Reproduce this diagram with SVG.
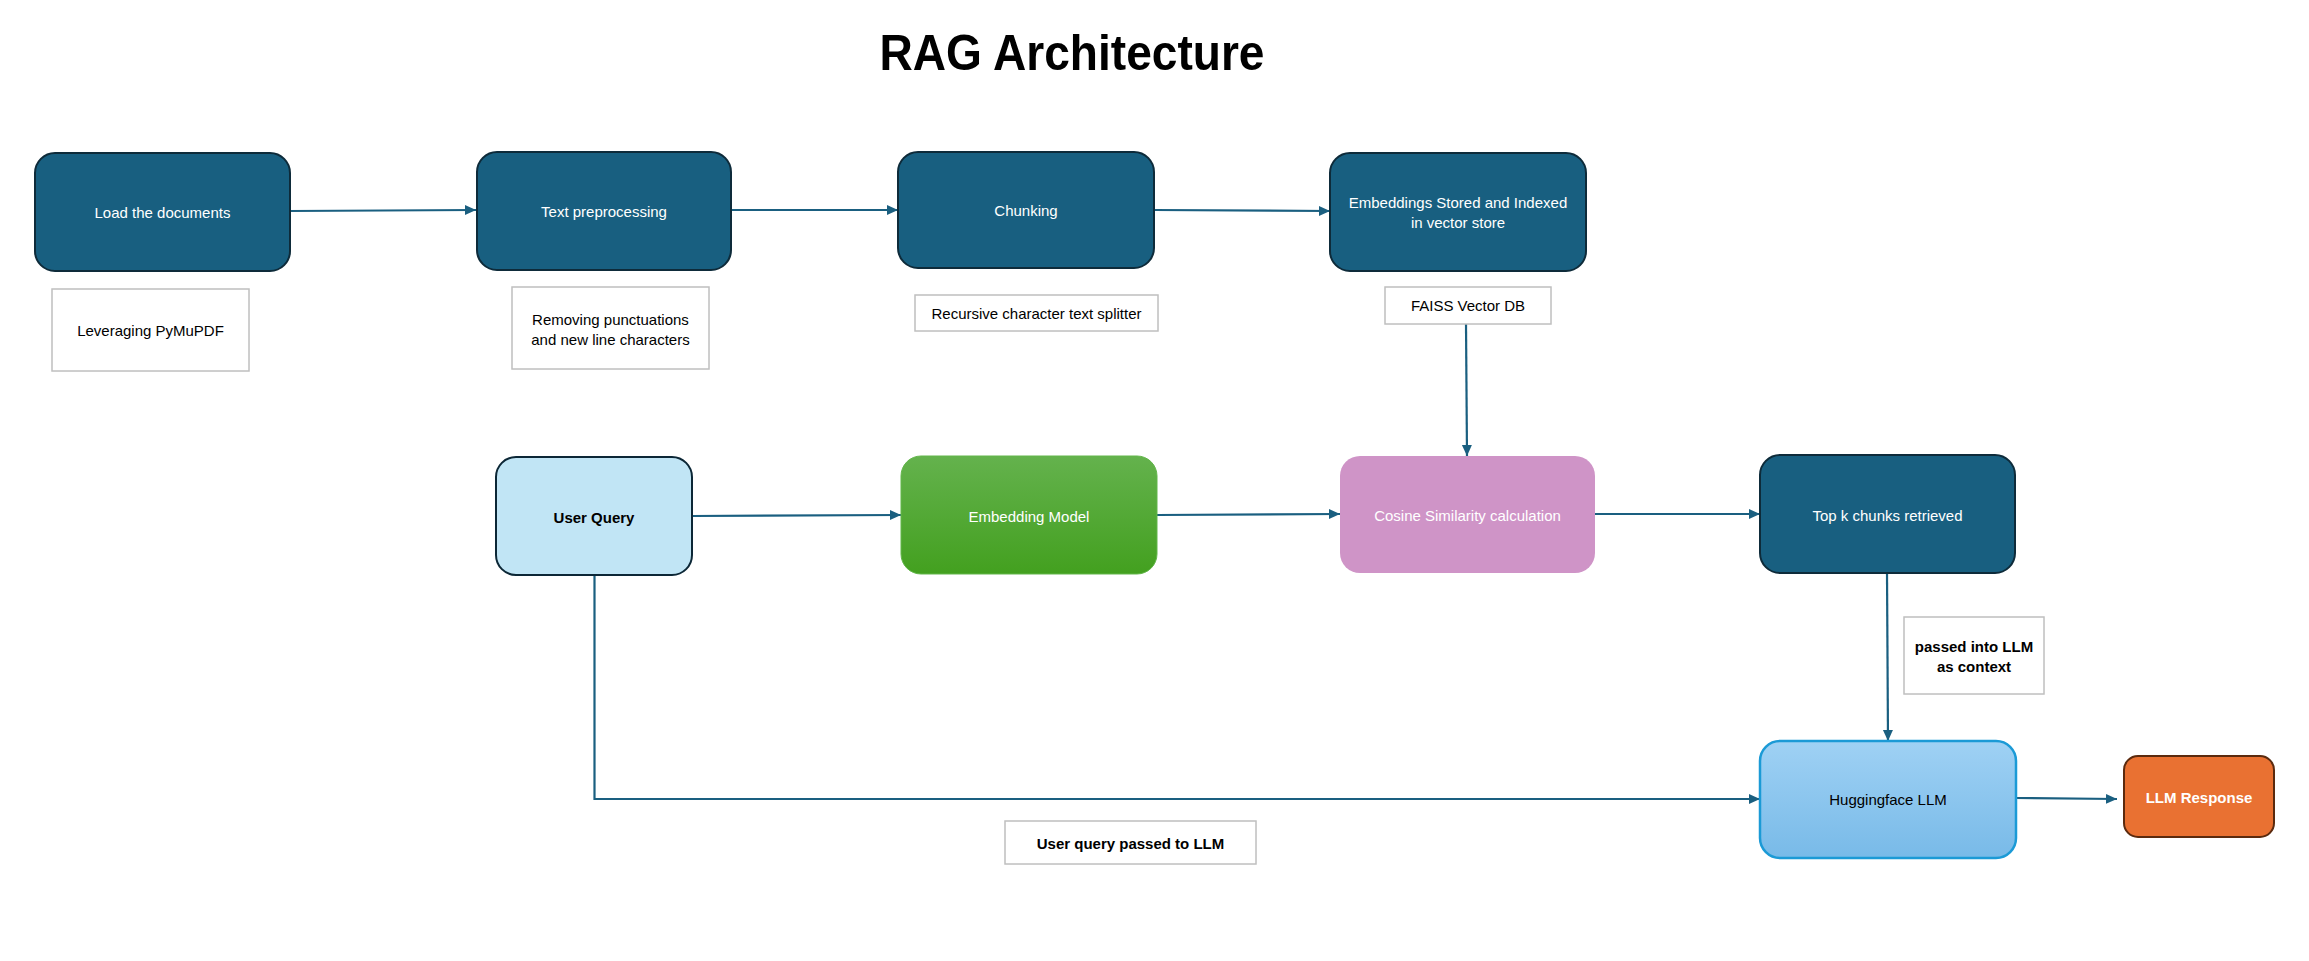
<svg xmlns="http://www.w3.org/2000/svg" width="2309" height="961" viewBox="0 0 2309 961">
<style>
text{font-family:"Liberation Sans",Arial,sans-serif;font-size:15px;text-anchor:middle;dominant-baseline:central}
.dark{fill:#185F80;stroke:#0E2B3A;stroke-width:2}
.lbl{fill:#FFFFFF;stroke:#BFBFBF;stroke-width:1.5}
.w{fill:#FFFFFF}
.k{fill:#000000}
.b{font-weight:bold}
.con{fill:none;stroke:#1A5F80;stroke-width:2.2}
</style>
<defs>
<marker id="ah" markerUnits="userSpaceOnUse" markerWidth="12" markerHeight="12" viewBox="0 0 12 12" refX="11" refY="6" orient="auto">
<path d="M0,1 L11,6 L0,11 Z" fill="#1A5F80"/>
</marker>
<linearGradient id="gGreen" x1="0" y1="0" x2="0" y2="1">
<stop offset="0" stop-color="#64B24D"/>
<stop offset="1" stop-color="#43A01F"/>
</linearGradient>
<linearGradient id="gBlue" x1="0" y1="0" x2="0" y2="1">
<stop offset="0" stop-color="#9FD1F4"/>
<stop offset="1" stop-color="#78BAE8"/>
</linearGradient>
</defs>
<rect width="2309" height="961" fill="#FFFFFF"/>
<text id="title" x="1072" y="53" style="font-size:50px;font-weight:bold" textLength="385" lengthAdjust="spacingAndGlyphs">RAG Architecture</text>

<g id="connectors">
<path class="con" d="M290,211 L476,210" marker-end="url(#ah)"/>
<path class="con" d="M731,210 L898,210" marker-end="url(#ah)"/>
<path class="con" d="M1154,210 L1330,211" marker-end="url(#ah)"/>
<path class="con" d="M1466,324 L1467,456" marker-end="url(#ah)"/>
<path class="con" d="M692,516 L901,515" marker-end="url(#ah)"/>
<path class="con" d="M1157,515 L1340,514" marker-end="url(#ah)"/>
<path class="con" d="M1595,514 L1760,514" marker-end="url(#ah)"/>
<path class="con" d="M1887,573 L1888,741" marker-end="url(#ah)"/>
<path class="con" d="M594.5,575 L594.5,799 L1760,799" marker-end="url(#ah)"/>
<path class="con" d="M2016,798 L2117,799" marker-end="url(#ah)"/>
</g>

<g id="load">
<rect class="dark" x="35" y="153" width="255" height="118" rx="20"/>
<text class="w" x="162.5" y="212">Load the documents</text>
</g>
<g id="load-note">
<rect class="lbl" x="52" y="289" width="197" height="82"/>
<text class="k" x="150.5" y="330">Leveraging PyMuPDF</text>
</g>

<g id="preprocess">
<rect class="dark" x="477" y="152" width="254" height="118" rx="20"/>
<text class="w" x="604" y="211">Text preprocessing</text>
</g>
<g id="preprocess-note">
<rect class="lbl" x="512" y="287" width="197" height="82"/>
<text class="k" x="610.5" y="319">Removing punctuations</text>
<text class="k" x="610.5" y="339">and new line characters</text>
</g>

<g id="chunking">
<rect class="dark" x="898" y="152" width="256" height="116" rx="20"/>
<text class="w" x="1026" y="210">Chunking</text>
</g>
<g id="chunking-note">
<rect class="lbl" x="915" y="295" width="243" height="36"/>
<text class="k" x="1036.5" y="313">Recursive character text splitter</text>
</g>

<g id="embeddings">
<rect class="dark" x="1330" y="153" width="256" height="118" rx="20"/>
<text class="w" x="1458" y="202.5">Embeddings Stored and Indexed</text>
<text class="w" x="1458" y="222.5">in vector store</text>
</g>
<g id="faiss">
<rect class="lbl" x="1385" y="287" width="166" height="37"/>
<text class="k" x="1468" y="305.5">FAISS Vector DB</text>
</g>

<g id="user-query">
<rect x="496" y="457" width="196" height="118" rx="20" fill="#C1E5F5" stroke="#0C2736" stroke-width="2"/>
<text class="k b" x="594" y="517">User Query</text>
</g>

<g id="embedding-model">
<rect x="901" y="456" width="256" height="118" rx="20" fill="url(#gGreen)" stroke="#62B64A" stroke-width="1"/>
<text class="w" x="1029" y="516">Embedding Model</text>
</g>

<g id="cosine">
<rect x="1340" y="456" width="255" height="117" rx="20" fill="#CF94C7"/>
<text class="w" x="1467.5" y="515">Cosine Similarity calculation</text>
</g>

<g id="topk">
<rect class="dark" x="1760" y="455" width="255" height="118" rx="20"/>
<text class="w" x="1887.5" y="515">Top k chunks retrieved</text>
</g>

<g id="context-note">
<rect class="lbl" x="1904" y="617" width="140" height="77"/>
<text class="k b" x="1974" y="646">passed into LLM</text>
<text class="k b" x="1974" y="666">as context</text>
</g>

<g id="llm">
<rect x="1760" y="741" width="256" height="117" rx="20" fill="url(#gBlue)" stroke="#1B9AD6" stroke-width="2.5"/>
<text class="k" x="1888" y="799">Huggingface LLM</text>
</g>

<g id="response">
<rect x="2124" y="756" width="150" height="81" rx="14" fill="#E97132" stroke="#5B2A0E" stroke-width="2"/>
<text class="w b" x="2199" y="797">LLM Response</text>
</g>

<g id="query-note">
<rect class="lbl" x="1005" y="821" width="251" height="43"/>
<text class="k b" x="1130.5" y="843">User query passed to LLM</text>
</g>
</svg>
